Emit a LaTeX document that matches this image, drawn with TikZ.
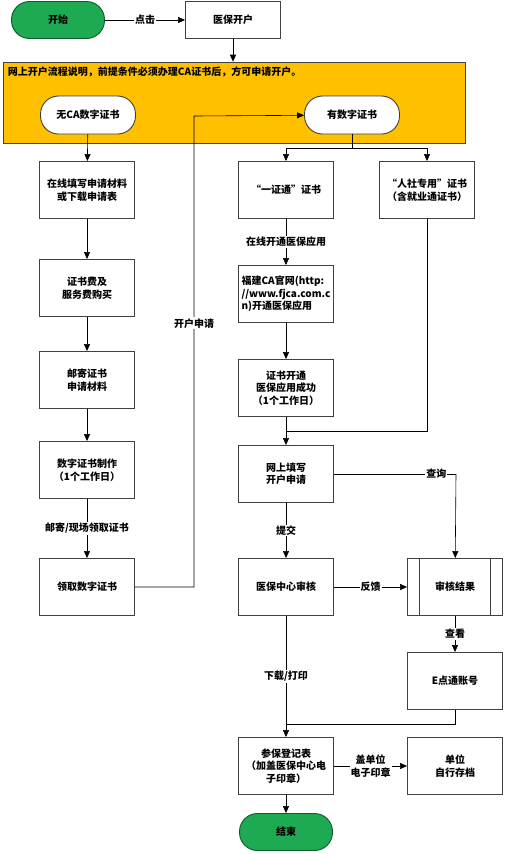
\documentclass[tikz,border=0pt]{standalone}
\usepackage{fontspec}
\setmainfont{Noto Sans CJK SC}
\usepackage{tikz}
\usetikzlibrary{arrows.meta, positioning}
\definecolor{termgreen}{HTML}{1DAA52}
\definecolor{termedge}{HTML}{0E5A2C}
\definecolor{notegold}{HTML}{FFC000}
\definecolor{boxedge}{HTML}{404040}
\tikzset{every picture/.style={/utils/exec={\bfseries}}}

\begin{document}
\begin{tikzpicture}[x=1pt, y=-1pt, >={Triangle[length=7pt, width=6pt]}, semithick,
    every node/.style={font=\fontsize{10}{12.5}\selectfont\bfseries},
    box/.style={draw=boxedge, line width=0.9pt, fill=white, minimum width=95pt, minimum height=57pt, align=center, inner sep=2pt},
    term/.style={draw=termedge, line width=0.9pt, fill=termgreen, rounded corners=18pt, minimum width=93pt, minimum height=37pt},
    oval/.style={draw=boxedge, line width=0.9pt, fill=white, rounded corners=18pt, minimum width=95pt, minimum height=38pt},
    lbl/.style={fill=white, inner sep=1pt, align=center},
    procbox/.style={box, path picture={
        \draw[boxedge, line width=0.9pt] ([xshift=12pt]path picture bounding box.north west) -- ([xshift=12pt]path picture bounding box.south west);
        \draw[boxedge, line width=0.9pt] ([xshift=-12pt]path picture bounding box.north east) -- ([xshift=-12pt]path picture bounding box.south east);}}]
        \useasboundingbox (0,0) rectangle (508,854);

        % Nodes
        \node[term] (start) at (58, 20) {开始};
        \node[box, minimum height=37pt] (open) at (233, 20) {医保开户};
        \node[draw=boxedge, fill=notegold, minimum width=462pt, minimum height=81pt,
              label={[anchor=north west, inner sep=0pt, xshift=5pt, yshift=-5pt]north west:网上开户流程说明，前提条件必须办理CA证书后，方可申请开户。}] (notice) at (234, 102.5) {};
        \node[oval] (nocert) at (88, 115) {无CA数字证书};
        \node[oval] (hascert) at (352, 115) {有数字证书};

        \node[box] (fill) at (87, 190) {在线填写申请材料\\或下载申请表};
        \node[box] (fee) at (87, 288) {证书费及\\服务费购买};
        \node[box] (mail) at (87, 380) {邮寄证书\\申请材料};
        \node[box] (make) at (87, 470) {数字证书制作\\（1个工作日）};
        \node[box] (fetch) at (87, 587) {领取数字证书};

        \node[box] (yzt) at (286, 190) {“一证通”证书};
        \node[box, align=left] (fjca) at (286, 294) {福建CA官网(http:\\//www.fjca.com.c\\n)开通医保应用};
        \node[box] (okapp) at (286, 388) {证书开通\\医保应用成功\\（1个工作日）};
        \node[box] (apply) at (286, 474) {网上填写\\开户申请};
        \node[box] (audit) at (286, 587) {医保中心审核};
        \node[box] (reg) at (286, 766) {参保登记表\\（加盖医保中心电\\子印章）};
        \node[term] (end) at (286, 832) {结束};

        \node[box] (rszy) at (427, 190) {“人社专用”证书\\（含就业通证书）};
        \node[procbox] (result) at (455, 587) {审核结果};
        \node[box] (edot) at (455, 681) {E点通账号};
        \node[box] (archive) at (455, 766) {单位\\自行存档};

        \coordinate (ret) at (194, 116);
        \coordinate (join) at (286, 431);
        \coordinate (query) at (456, 474);
        \coordinate (merge) at (286, 724);

        % Directed edges
        \draw[->] (start) -- node[lbl] {点击} (open);
        \draw[->] (open) -- (notice.north -| open);
        \draw[->] (nocert) -- (fill);
        \draw[->] (fill) -- (fee);
        \draw[->] (fee) -- (mail);
        \draw[->] (mail) -- (make);
        \draw[->] (make) -- node[lbl] {邮寄/现场领取证书} (fetch);
        \draw[->] (fetch) -| node[lbl, pos=0.78] {开户申请} (ret) -- (hascert);

        \draw (hascert.south) -- ++(0, 14) coordinate (split);
        \draw[->] (split) -| (yzt);
        \draw[->] (split) -| (rszy);
        \draw[->] (yzt) -- node[lbl] {在线开通医保应用} (fjca);
        \draw[->] (fjca) -- (okapp);
        \draw (rszy) |- (join);
        \draw[->] (okapp) -- (apply);
        \draw[->] (apply) -- node[lbl] {提交} (audit);
        \draw (apply) -- node[lbl, pos=0.84] {查询} (query);
        \draw[->] (query) -- (result);
        \draw[->] (audit) -- node[lbl] {反馈} (result);
        \draw[->] (result) -- node[lbl] {查看} (edot);
        \draw (edot) |- (merge);
        \draw[->] (audit) -- node[lbl] {下载/打印} (reg);
        \draw[->] (reg) -- node[lbl] {盖单位\\电子印章} (archive);
        \draw[->] (reg) -- (end);
    \end{tikzpicture}
\end{document}
